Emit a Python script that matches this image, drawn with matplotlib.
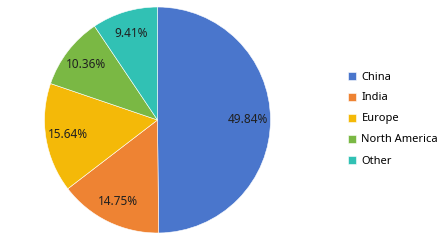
import matplotlib
matplotlib.use("Agg")
import matplotlib.pyplot as plt

# data
regions = ["China", "India", "Europe", "North America", "Other"]
shares = [49.84, 14.75, 15.64, 10.36, 9.41]
colors = ["#4A76CC", "#EE8333", "#F4B908", "#7AB844", "#31C1B4"]

plt.rcParams['font.family'] = ['Noto Sans', 'DejaVu Sans']

fig = plt.figure(figsize=(4.42, 2.5), dpi=100)
ax = fig.add_axes([44 / 442, 17 / 250, 227 / 442, 226 / 250])

wedges, texts, autotexts = ax.pie(
    shares, colors=colors, startangle=90, counterclock=False,
    autopct=lambda p: f"{p:.2f}%", pctdistance=0.8,
    wedgeprops=dict(edgecolor="white", linewidth=0.4),
    textprops=dict(fontsize=8.5, color="#202020"))
ax.set_aspect("equal")
ax.set_xlim(-1.0, 1.0)
ax.set_ylim(-1.0, 1.0)

fig.legend(wedges, regions, loc="center left",
           bbox_to_anchor=(342 / 442, 131 / 250), frameon=False,
           fontsize=8, handlelength=0.75, handleheight=0.75,
           handletextpad=0.5, labelspacing=0.9, borderpad=0)

fig.savefig("out.png", dpi=100)
